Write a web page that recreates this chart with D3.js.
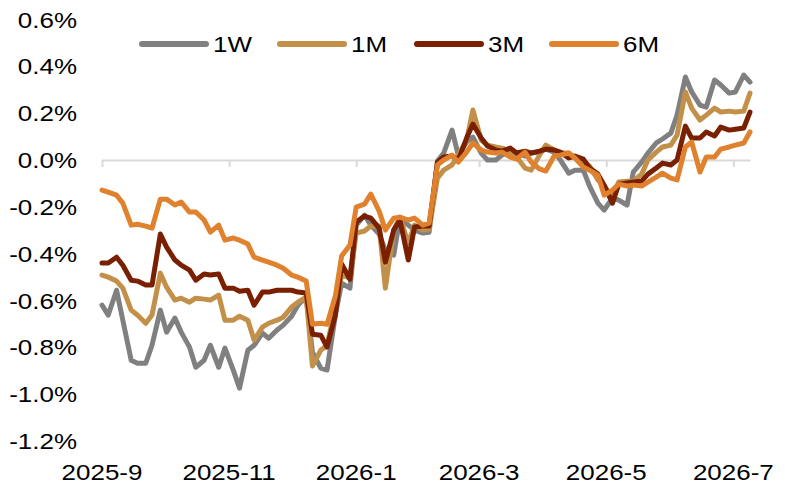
<!DOCTYPE html>
<html>
<head>
<meta charset="utf-8">
<script src="https://cdn.jsdelivr.net/npm/d3@7"></script>
<style>
  body { margin: 0; background: #fff; }
  text { font-family: "Liberation Sans", Arial, sans-serif; fill: #000; }
</style>
</head>
<body>
<svg id="chart" width="785" height="496"></svg>
<script>
// ---- data ----
const dates = [
  "2025-09-01","2025-09-04","2025-09-08","2025-09-11","2025-09-15","2025-09-18","2025-09-22","2025-09-25","2025-09-29","2025-10-02",
  "2025-10-06","2025-10-09","2025-10-13","2025-10-16","2025-10-20","2025-10-23","2025-10-27","2025-10-30","2025-11-03","2025-11-06",
  "2025-11-10","2025-11-13","2025-11-17","2025-11-20","2025-11-24","2025-11-27","2025-12-01","2025-12-04","2025-12-08","2025-12-11",
  "2025-12-15","2025-12-18","2025-12-22","2025-12-25","2025-12-29","2026-01-01","2026-01-05","2026-01-08","2026-01-12","2026-01-15",
  "2026-01-19","2026-01-22","2026-01-26","2026-01-29","2026-02-02","2026-02-05","2026-02-09","2026-02-12","2026-02-16","2026-02-19",
  "2026-02-23","2026-02-26","2026-03-02","2026-03-05","2026-03-09","2026-03-12","2026-03-16","2026-03-19","2026-03-23","2026-03-26",
  "2026-03-30","2026-04-02","2026-04-06","2026-04-09","2026-04-13","2026-04-16","2026-04-20","2026-04-23","2026-04-27","2026-04-30",
  "2026-05-04","2026-05-07","2026-05-11","2026-05-14","2026-05-18","2026-05-21","2026-05-25","2026-05-28","2026-06-01","2026-06-04",
  "2026-06-08","2026-06-11","2026-06-15","2026-06-18","2026-06-22","2026-06-25","2026-06-29","2026-07-02","2026-07-06","2026-07-09"
];

const s1W = [
  -0.620,-0.662,-0.556,-0.684,-0.855,-0.868,-0.868,-0.791,-0.641,-0.735,
  -0.675,-0.735,-0.799,-0.885,-0.855,-0.791,-0.885,-0.803,-0.897,-0.974,
  -0.812,-0.791,-0.739,-0.761,-0.726,-0.705,-0.667,-0.620,-0.585,-0.821,
  -0.889,-0.897,-0.662,-0.526,-0.547,-0.278,-0.235,-0.278,-0.316,-0.385,
  -0.406,-0.248,-0.278,-0.299,-0.312,-0.308,-0.004,0.030,0.128,0.021,
  0.077,0.098,0.030,0.000,0.000,0.021,0.043,0.030,0.017,0.030,
  0.034,0.047,0.034,0.000,-0.056,-0.043,-0.043,-0.111,-0.184,-0.214,
  -0.162,-0.171,-0.192,-0.051,-0.009,0.030,0.073,0.090,0.115,0.192,
  0.355,0.291,0.235,0.226,0.342,0.321,0.286,0.291,0.363,0.333
];
const s1M = [
  -0.491,-0.500,-0.517,-0.547,-0.641,-0.662,-0.697,-0.662,-0.483,-0.543,
  -0.598,-0.590,-0.607,-0.590,-0.594,-0.598,-0.577,-0.684,-0.684,-0.667,
  -0.684,-0.769,-0.714,-0.697,-0.684,-0.671,-0.628,-0.607,-0.585,-0.880,
  -0.812,-0.791,-0.628,-0.491,-0.504,-0.312,-0.303,-0.282,-0.282,-0.547,
  -0.299,-0.244,-0.355,-0.278,-0.299,-0.295,-0.077,-0.043,-0.021,0.021,
  0.085,0.214,0.085,0.064,0.056,0.051,0.038,0.013,-0.034,-0.043,
  0.021,0.064,0.043,0.030,0.030,0.009,-0.004,-0.026,-0.085,-0.111,
  -0.158,-0.094,-0.090,-0.090,-0.060,0.000,0.034,0.056,0.064,0.107,
  0.291,0.222,0.171,0.192,0.222,0.205,0.209,0.205,0.209,0.286
];
const s3M = [
  -0.440,-0.440,-0.415,-0.449,-0.513,-0.517,-0.534,-0.534,-0.316,-0.372,
  -0.427,-0.449,-0.470,-0.513,-0.487,-0.491,-0.487,-0.547,-0.547,-0.560,
  -0.556,-0.620,-0.564,-0.564,-0.556,-0.556,-0.556,-0.564,-0.568,-0.744,
  -0.748,-0.799,-0.662,-0.444,-0.509,-0.265,-0.239,-0.248,-0.291,-0.436,
  -0.299,-0.256,-0.427,-0.286,-0.282,-0.282,-0.009,0.013,0.017,0.000,
  0.094,0.154,0.094,0.060,0.043,0.038,0.051,0.030,0.038,0.030,
  0.038,0.047,0.043,0.034,0.009,0.017,0.004,-0.034,-0.060,-0.107,
  -0.184,-0.103,-0.098,-0.094,-0.090,-0.060,-0.034,-0.013,-0.021,0.000,
  0.145,0.094,0.094,0.120,0.103,0.141,0.128,0.132,0.137,0.205
];
const s6M = [
  -0.128,-0.137,-0.150,-0.184,-0.278,-0.274,-0.282,-0.291,-0.167,-0.167,
  -0.192,-0.179,-0.222,-0.222,-0.256,-0.308,-0.278,-0.342,-0.333,-0.342,
  -0.359,-0.415,-0.427,-0.436,-0.449,-0.462,-0.491,-0.500,-0.517,-0.701,
  -0.697,-0.701,-0.581,-0.410,-0.363,-0.201,-0.188,-0.145,-0.218,-0.299,
  -0.248,-0.244,-0.256,-0.248,-0.278,-0.269,-0.021,0.000,0.021,-0.009,
  0.034,0.073,0.043,0.034,0.030,0.034,0.013,0.004,0.034,-0.009,
  -0.038,-0.047,0.017,0.021,0.030,0.009,-0.030,-0.043,-0.064,-0.150,
  -0.128,-0.103,-0.111,-0.107,-0.111,-0.094,-0.073,-0.056,-0.077,-0.085,
  0.056,0.077,-0.051,0.013,0.013,0.047,0.056,0.064,0.073,0.120
];

const seriesNames = ["1W", "1M", "3M", "6M"];
const seriesColors = ["#808080", "#C3904A", "#7A2000", "#DF812D"];
const seriesValues = [s1W, s1M, s3M, s6M];

const yTicks = [-1.2, -1.0, -0.8, -0.6, -0.4, -0.2, 0.0, 0.2, 0.4, 0.6];
const yTickLabels = ["-1.2%","-1.0%","-0.8%","-0.6%","-0.4%","-0.2%","0.0%","0.2%","0.4%","0.6%"];
const xTickDates = ["2025-09-01","2025-11-01","2026-01-01","2026-03-01","2026-05-01","2026-07-01"];
const xTickLabels = ["2025-9","2025-11","2026-1","2026-3","2026-5","2026-7"];

// ---- chart ----
const parse = d3.timeParse("%Y-%m-%d");
const svg = d3.select("#chart");
const FS = 22, SX = 1.18;

const x = d3.scaleTime()
  .domain([parse(dates[0]), parse(dates[dates.length - 1])])
  .range([102, 750]);
const y = d3.scaleLinear().domain([-1.2, 0.6]).range([441, 19.6]);

function label(g, tx, ty, txt, anchor) {
  g.append("text")
    .attr("transform", `translate(${tx},${ty}) scale(${SX},1)`)
    .attr("text-anchor", anchor)
    .style("font-size", FS + "px")
    .text(txt);
}

// zero axis with ticks
const xAxis = d3.axisBottom(x)
  .tickValues(xTickDates.map(parse))
  .tickSizeInner(7)
  .tickSizeOuter(0)
  .tickFormat("");
const ax = svg.append("g").attr("transform", `translate(0,${y(0)})`).call(xAxis);
ax.select(".domain").attr("stroke", "#d9d9d9").attr("stroke-width", 2);
ax.selectAll(".tick line").attr("stroke", "#d9d9d9").attr("stroke-width", 2);

// x labels
const xl = svg.append("g");
xTickDates.forEach((d, i) => label(xl, x(parse(d)), 480, xTickLabels[i], "middle"));

// y labels
const yl = svg.append("g");
yTicks.forEach((v, i) => label(yl, 77, y(v) + 8, yTickLabels[i], "end"));

// lines
const line = d3.line()
  .x(d => x(d.date))
  .y(d => y(d.v));
seriesValues.forEach((vals, si) => {
  const data = vals.map((v, i) => ({ date: parse(dates[i]), v }));
  svg.append("path")
    .datum(data)
    .attr("fill", "none")
    .attr("stroke", seriesColors[si])
    .attr("stroke-width", 5)
    .attr("stroke-linejoin", "round")
    .attr("stroke-linecap", "round")
    .attr("d", line);
});

// legend
const legendX = [140, 278, 415, 550];
const lg = svg.append("g");
seriesNames.forEach((n, i) => {
  lg.append("line")
    .attr("x1", legendX[i] + 2).attr("x2", legendX[i] + 66)
    .attr("y1", 44).attr("y2", 44)
    .attr("stroke", seriesColors[i])
    .attr("stroke-width", 6)
    .attr("stroke-linecap", "round");
  label(lg, legendX[i] + 73, 52, n, "start");
});
</script>
</body>
</html>
